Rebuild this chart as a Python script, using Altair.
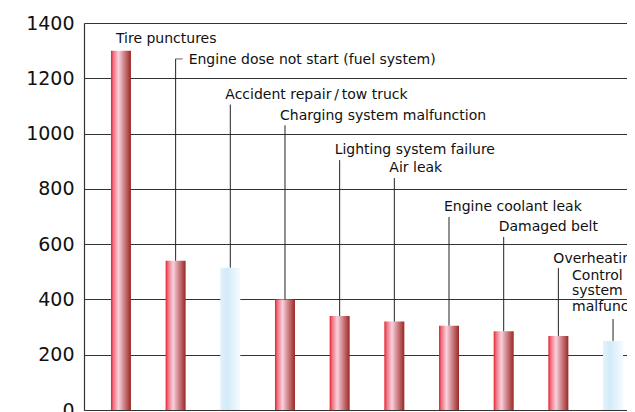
import altair as alt
import pandas as pd

categories = [
    "Tire punctures",
    "Engine dose not start (fuel system)",
    "Accident repair\u2009/\u2009tow truck",
    "Charging system malfunction",
    "Lighting system failure",
    "Air leak",
    "Engine coolant leak",
    "Damaged belt",
    "Overheating",
    "Control system malfunction",
]
values = [1300, 540, 515, 400, 340, 320, 305, 285, 268, 250]
kinds = ["red", "red", "blue", "red", "red", "red", "red", "red", "red", "blue"]
label_lines = [
    ["Tire punctures"],
    ["Engine dose not start (fuel system)"],
    ["Accident repair\u2009/\u2009tow truck"],
    ["Charging system malfunction"],
    ["Lighting system failure"],
    ["Air leak"],
    ["Engine coolant leak"],
    ["Damaged belt"],
    ["Overheating"],
    ["Control", "system", "malfunction"],
]
# annotation heights (in data units)
label_at = [1342, 1266, 1140, 1064, 941, 876, 734, 662, 546, 485]
leader_top = [None, 1270, 1105, 1030, 904, 839, 698, 626, 514, 329]
label_side = ["above", "hook", "above", "above", "above", "above", "above", "above", "above", "far"]

df = pd.DataFrame({
    "cat": categories,
    "value": values,
    "kind": kinds,
    "lines": label_lines,
    "label_at": label_at,
    "leader_top": leader_top,
    "side": label_side,
})

FONT = "DejaVu Sans"
INK = "#111111"

red_grad = alt.Gradient(
    gradient="linear", x1=0, x2=1, y1=0, y2=0,
    stops=[
        alt.GradientStop(offset=0.0, color="#e41f28"),
        alt.GradientStop(offset=0.12, color="#ef7080"),
        alt.GradientStop(offset=0.38, color="#f8d2de"),
        alt.GradientStop(offset=0.62, color="#d48c92"),
        alt.GradientStop(offset=1.0, color="#9a2824"),
    ],
)
blue_grad = alt.Gradient(
    gradient="linear", x1=0, x2=1, y1=0, y2=0,
    stops=[
        alt.GradientStop(offset=0.0, color="#e2f2fb"),
        alt.GradientStop(offset=0.35, color="#d2ebf9"),
        alt.GradientStop(offset=1.0, color="#f5fbfe"),
    ],
)

x_enc = alt.X(
    "cat:N", sort=categories,
    scale=alt.Scale(paddingInner=0, paddingOuter=0.176, range=[0, 566]),
    axis=alt.Axis(labels=False, ticks=False, title=None, grid=False,
                  domainColor="#333333", domainWidth=1.2),
)
y_scale = alt.Scale(domain=[0, 1400], nice=False)
y_enc = alt.Y(
    "value:Q", scale=y_scale,
    axis=alt.Axis(values=[0, 200, 400, 600, 800, 1000, 1200, 1400], format="d",
                  ticks=False, labelPadding=10, labelFont=FONT, labelFontSize=19,
                  labelColor=INK, gridColor="#333333", gridWidth=1.2,
                  domainColor="#333333", domainWidth=1.2, title=None),
)

base = alt.Chart(df).encode(x=x_enc)

red_bars = base.transform_filter(alt.datum.kind == "red").mark_bar(
    size=20, color=red_grad).encode(y=y_enc)
blue_bars = base.transform_filter(alt.datum.kind == "blue").mark_bar(
    size=20, color=blue_grad).encode(y=y_enc)

leaders = base.transform_filter("isValid(datum.leader_top)").mark_rule(
    color="#222222", strokeWidth=1).encode(
    y=alt.Y("value:Q", scale=y_scale), y2="leader_top:Q")

hook = base.transform_filter(alt.datum.side == "hook").mark_tick(
    orient="horizontal", size=7, thickness=1, color="#222222", xOffset=3.5).encode(
    y=alt.Y("leader_top:Q", scale=y_scale))

def texts(side, dx):
    return base.transform_filter(alt.datum.side == side).mark_text(
        align="left", baseline="middle", dx=dx, font=FONT, fontSize=14,
        color=INK, lineHeight=15.5).encode(
        y=alt.Y("label_at:Q", scale=y_scale), text="lines")

chart = alt.layer(
    red_bars, blue_bars, leaders, hook,
    texts("above", -5), texts("hook", 13), texts("far", -41),
).properties(
    width=543, height=387,
    padding={"left": 76, "top": 15, "right": 0, "bottom": 2},
    autosize=alt.AutoSizeParams(type="none"),
    background="white",
).configure_view(strokeWidth=0)

chart.save("out.html", embed_options={"renderer": "svg", "actions": False})
